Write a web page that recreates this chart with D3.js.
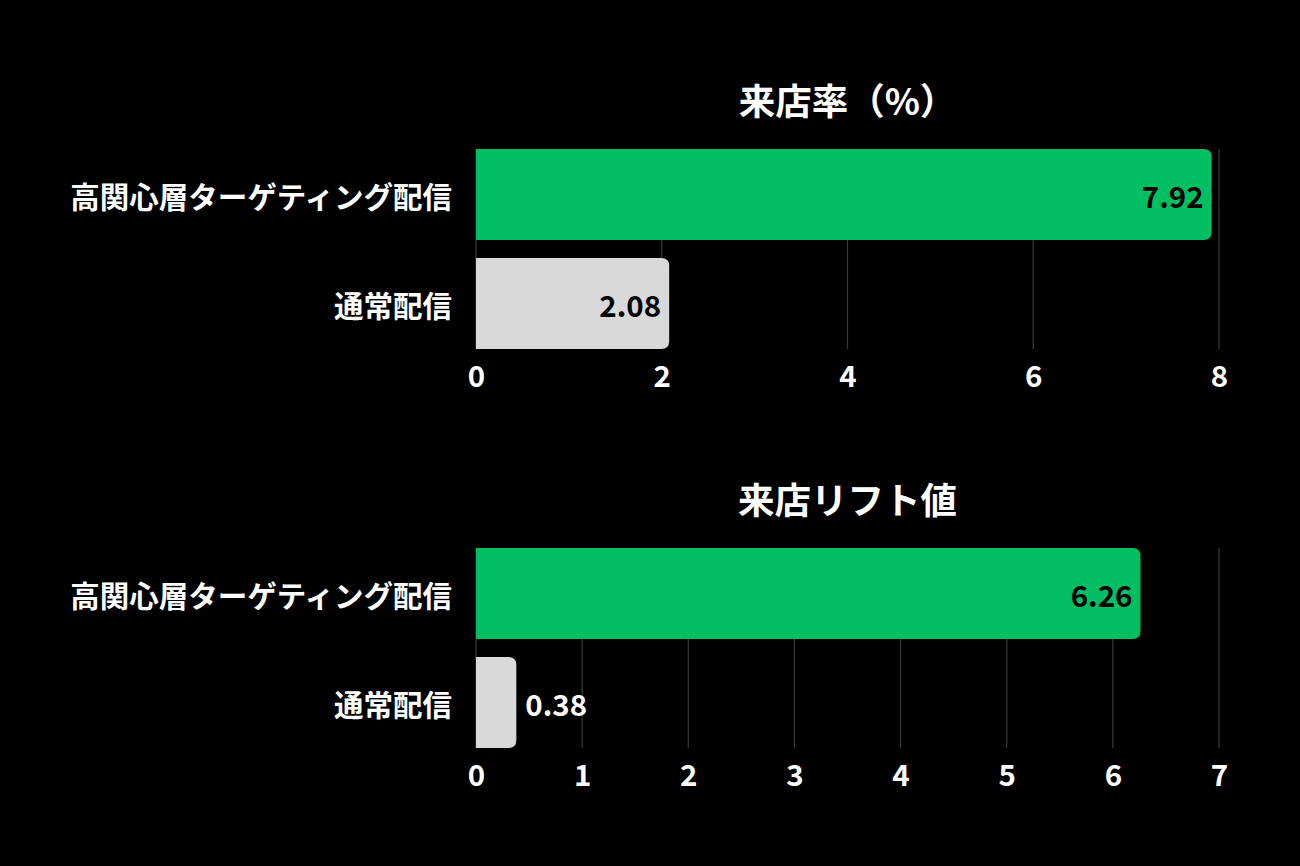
<!DOCTYPE html>
<html><head><meta charset="utf-8">
<script src="https://cdn.jsdelivr.net/npm/d3@7"></script>
<style>
html,body{margin:0;padding:0;background:#000;}
svg{display:block;}
text{font-family:"Noto Sans CJK JP","Noto Sans",sans-serif;font-weight:700;}
</style></head>
<body>
<svg id="c" width="1300" height="866"></svg>
<script>
const categories = ["高関心層ターゲティング配信", "通常配信"];
const visitRate = [7.92, 2.08];
const visitLift = [6.26, 0.38];
const titles = ["来店率（%）", "来店リフト値"];
const ticks1 = [0, 2, 4, 6, 8];
const ticks2 = [0, 1, 2, 3, 4, 5, 6, 7];

const barColors = ["#00BF63", "#D9D9D9"];
const svg = d3.select("#c");
const left = 476, right = 1219;

function panel(title, values, ticks, top) {
  const g = svg.append("g");
  const x = d3.scaleLinear().domain([0, d3.max(ticks)]).range([left, right]);
  const y = d3.scaleBand().domain(categories).range([top - 9, top + 209])
    .paddingInner(18 / 109).paddingOuter(9 / 109);
  const bw = y.bandwidth();
  const y0 = y(categories[0]), y1 = y(categories[categories.length - 1]) + bw;

  // title
  g.append("text").attr("x", (left + right) / 2).attr("y", top - 50)
    .attr("text-anchor", "middle").attr("dominant-baseline", "central")
    .attr("fill", "#fff").attr("font-size", 36.5).text(title);

  // gridlines
  g.selectAll("line.grid").data(ticks).join("line")
    .attr("x1", d => x(d)).attr("x2", d => x(d))
    .attr("y1", y0).attr("y2", y1)
    .attr("stroke", "#3a3a3a").attr("stroke-width", 1.2);

  // bars (right corners rounded)
  const r = 8;
  g.selectAll("path.bar").data(values).join("path")
    .attr("fill", (d, i) => barColors[i])
    .attr("d", (d, i) => {
      const x0 = x(0), x1 = x(d), yt = y(categories[i]), yb = yt + bw;
      const rr = Math.min(r, (x1 - x0) / 2);
      return `M${x0},${yt}H${x1 - rr}Q${x1},${yt} ${x1},${yt + rr}V${yb - rr}Q${x1},${yb} ${x1 - rr},${yb}H${x0}Z`;
    });

  // value labels
  g.selectAll("text.val").data(values).join("text")
    .attr("font-size", 29.5)
    .attr("dominant-baseline", "central")
    .attr("y", (d, i) => y(categories[i]) + bw / 2)
    .each(function (d, i) {
      const inside = x(d) - x(0) > 100;
      d3.select(this)
        .attr("x", inside ? x(d) - 8 : x(d) + 9)
        .attr("text-anchor", inside ? "end" : "start")
        .attr("fill", inside ? "#000" : "#fff")
        .text(d.toFixed(2));
    });

  // category labels
  g.selectAll("text.cat").data(categories).join("text")
    .attr("x", left - 24).attr("y", d => y(d) + bw / 2)
    .attr("text-anchor", "end").attr("dominant-baseline", "central")
    .attr("fill", "#fff").attr("font-size", 29.5).text(d => d);

  // x axis tick labels
  const axis = d3.axisBottom(x).tickValues(ticks).tickSize(0).tickPadding(0).tickFormat(d3.format("d"));
  const ag = g.append("g").attr("transform", `translate(0,${y1 + 17})`).call(axis);
  ag.select(".domain").remove();
  ag.selectAll("text").attr("fill", "#fff").attr("font-size", 29.5)
    .attr("font-family", '"Noto Sans CJK JP","Noto Sans",sans-serif').attr("font-weight", 700);
}

panel(titles[0], visitRate, ticks1, 149);
panel(titles[1], visitLift, ticks2, 548);
</script>
</body></html>
